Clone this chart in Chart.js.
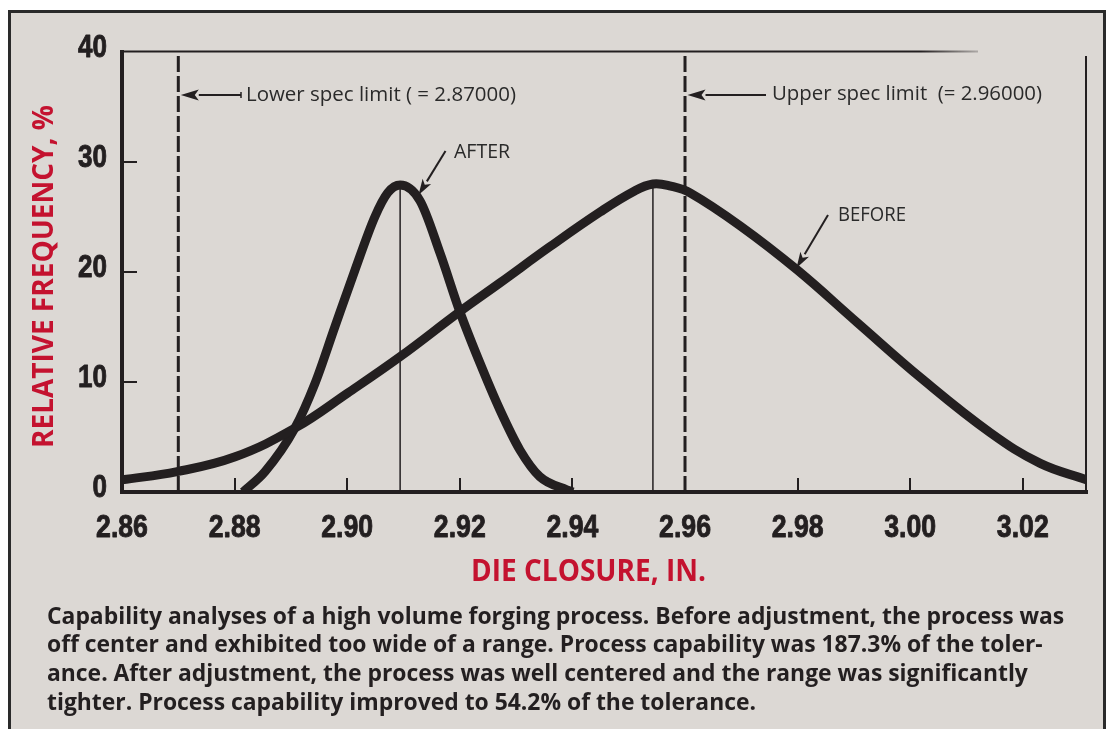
<!DOCTYPE html>
<html><head><meta charset="utf-8">
<script src="https://cdn.jsdelivr.net/npm/chart.js@4.4.1/dist/chart.umd.min.js"></script>
<style>
html,body{margin:0;padding:0;background:#fff;width:1109px;height:729px;overflow:hidden;}
#frame{position:absolute;left:8px;top:10px;width:1098px;height:760px;box-sizing:border-box;border:3px solid #2a2a2a;background:#dcd8d4;}
#c{position:absolute;left:0;top:0;}
#cap{position:absolute;left:47px;top:603px;font-family:'Open Sans',sans-serif;font-weight:700;color:#231f20;line-height:28.7px;white-space:nowrap;}
</style></head><body>
<div id="frame"></div>
<canvas id="c" width="1109" height="729"></canvas>
<div id="cap"></div>
<script>
// ---- data ----
const xTickValues = [2.86, 2.88, 2.90, 2.92, 2.94, 2.96, 2.98, 3.00, 3.02];
const yTickValues = [0, 10, 20, 30, 40];
const beforeX = [2.860, 2.8698, 2.8801, 2.8907, 2.9001, 2.9094, 2.9200, 2.9271, 2.9360, 2.9449, 2.9508, 2.9543, 2.9575, 2.9609, 2.9698, 2.9799, 2.9906, 3.0023, 3.0142, 3.0231, 3.0314];
const beforeY = [1.1, 1.85, 3.2, 5.8, 9.0, 12.3, 16.4, 19.0, 22.3, 25.45, 27.3, 28.0, 27.8, 27.2, 24.2, 20.2, 15.4, 10.2, 5.4, 2.6, 1.1];
const afterX = [2.8815, 2.8854, 2.8907, 2.8943, 2.8978, 2.9014, 2.9049, 2.9072, 2.9094, 2.9129, 2.9165, 2.9200, 2.9236, 2.9271, 2.9307, 2.9342, 2.9390, 2.9401];
const afterY = [0, 1.85, 5.8, 9.9, 15.0, 20.2, 25.0, 27.2, 27.9, 26.5, 21.7, 16.4, 11.7, 7.5, 3.8, 1.4, 0.2, 0];
const lowerSpec = 2.87;
const upperSpec = 2.96;
const beforePeak = [2.9543, 28.0];
const afterPeak = [2.9094, 27.9];
const xMin = 2.86, xMax = 3.0314, yMin = 0, yMax = 40;
const yTitle = 'RELATIVE FREQUENCY, %';
const xTitle = 'DIE CLOSURE, IN.';
const lowerLabel = 'Lower spec limit ( = 2.87000)';
const upperLabel = 'Upper spec limit  (= 2.96000)';
const afterLabel = 'AFTER';
const beforeLabel = 'BEFORE';
const captionLines = [
  'Capability analyses of a high volume forging process. Before adjustment, the process was',
  'off center and exhibited too wide of a range. Process capability was 187.3% of the toler-',
  'ance. After adjustment, the process was well centered and the range was significantly',
  'tighter. Process capability improved to 54.2% of the tolerance.'
];

const INK = '#231f20', RED = '#c4122f', TXT = '#2a2a2a';
const zip = (xs, ys) => xs.map((x, i) => ({x: x, y: ys[i]}));

function fitText(ctx, text, x, y, width, font, color) {
  ctx.save();
  ctx.font = font; ctx.fillStyle = color; ctx.textAlign = 'left'; ctx.textBaseline = 'alphabetic';
  const w = ctx.measureText(text).width;
  ctx.translate(x, y); ctx.scale(width / w, 1);
  ctx.fillText(text, 0, 0);
  ctx.restore();
}
function narrowText(ctx, text, x, y, align, sx) {
  ctx.save();
  ctx.font = "700 31px 'Liberation Sans', Arial, sans-serif";
  ctx.fillStyle = INK; ctx.strokeStyle = INK; ctx.lineWidth = 0.9; ctx.lineJoin = 'round';
  ctx.textAlign = align; ctx.textBaseline = 'alphabetic';
  ctx.translate(x, y); ctx.scale(sx, 1);
  ctx.fillText(text, 0, 0);
  ctx.strokeText(text, 0, 0);
  ctx.restore();
}
function arrow(ctx, x1, y1, x2, y2, len, half) {
  ctx.save();
  ctx.strokeStyle = INK; ctx.fillStyle = INK; ctx.lineWidth = 2;
  const a = Math.atan2(y2 - y1, x2 - x1);
  const bx = x2 - Math.cos(a) * len, by = y2 - Math.sin(a) * len;
  ctx.beginPath(); ctx.moveTo(x1, y1); ctx.lineTo(bx, by); ctx.stroke();
  ctx.beginPath();
  ctx.moveTo(x2, y2);
  ctx.lineTo(bx + Math.sin(a) * half, by - Math.cos(a) * half);
  ctx.lineTo(bx + Math.cos(a) * 4, by + Math.sin(a) * 4);
  ctx.lineTo(bx - Math.sin(a) * half, by + Math.cos(a) * half);
  ctx.closePath(); ctx.fill();
  ctx.restore();
}

const decor = {
  id: 'decor',
  afterDatasetsDraw(chart) {
    const ctx = chart.ctx, xs = chart.scales.x, ys = chart.scales.y, ca = chart.chartArea;
    ctx.save();
    ctx.strokeStyle = INK; ctx.lineWidth = 2;
    // inward tick marks
    xs.ticks.forEach(t => {
      if (t.value === xMin) return;
      const px = Math.round(xs.getPixelForValue(t.value));
      ctx.beginPath(); ctx.moveTo(px, ca.bottom); ctx.lineTo(px, ca.bottom - 14); ctx.stroke();
    });
    ys.ticks.forEach(t => {
      if (t.value === yMin || t.value === yMax) return;
      const py = Math.round(ys.getPixelForValue(t.value));
      ctx.beginPath(); ctx.moveTo(ca.left, py); ctx.lineTo(ca.left + 15, py); ctx.stroke();
    });
    // top frame line (fading at its end) and right frame line
    const g = ctx.createLinearGradient(920, 0, 978, 0);
    g.addColorStop(0, INK); g.addColorStop(1, 'rgba(35,31,32,0.25)');
    ctx.strokeStyle = g; ctx.lineWidth = 2;
    ctx.beginPath(); ctx.moveTo(ca.left, ca.top - 0.5); ctx.lineTo(978, ca.top - 0.5); ctx.stroke();
    ctx.strokeStyle = INK; ctx.lineWidth = 2;
    ctx.beginPath(); ctx.moveTo(ca.right - 1, ca.top + 4); ctx.lineTo(ca.right - 1, ca.bottom); ctx.stroke();
    ctx.restore();

    // tick labels (condensed bold), placed by the chart's scales
    xs.ticks.forEach(t => narrowText(ctx, t.value.toFixed(2), xs.getPixelForValue(t.value), ca.bottom + 45, 'center', 0.86));
    ys.ticks.forEach(t => narrowText(ctx, String(t.value), ca.left - 15, ys.getPixelForValue(t.value) + 5, 'right', 0.84));

    // annotations
    const lx = xs.getPixelForValue(lowerSpec) + 2.5, ux = xs.getPixelForValue(upperSpec) + 2.5;
    arrow(ctx, 241, 95, lx, 95, 18, 5.5);
    ctx.save(); ctx.strokeStyle = INK; ctx.lineWidth = 1.5;
    ctx.beginPath(); ctx.moveTo(241, 92); ctx.lineTo(241, 98); ctx.stroke(); ctx.restore();
    arrow(ctx, 766, 95, ux, 95, 18, 5.5);
    arrow(ctx, 445.5, 151, 418.5, 195, 16, 5);
    arrow(ctx, 828, 215, 796.5, 268, 16, 5);
    const af = "400 20px 'Open Sans', sans-serif";
    fitText(ctx, lowerLabel, 246, 101, 270, af, TXT);
    fitText(ctx, upperLabel, 772, 100, 270, af, TXT);
    fitText(ctx, afterLabel, 454, 158, 56, af, TXT);
    fitText(ctx, beforeLabel, 838, 221, 68, af, TXT);

    // axis titles
    fitText(ctx, xTitle, 471, 581, 235, "700 31px 'Open Sans', sans-serif", RED);
    ctx.save();
    ctx.translate(53, 448); ctx.rotate(-Math.PI / 2);
    fitText(ctx, yTitle, 0, 0, 343, "700 29px 'Open Sans', sans-serif", RED);
    ctx.restore();
  }
};

const lineDs = (data, w, extra) => Object.assign({
  data: data, borderColor: INK, backgroundColor: INK, borderWidth: w, pointRadius: 0,
  pointHoverRadius: 0, fill: false, tension: 0, borderCapStyle: 'butt', borderJoinStyle: 'round'
}, extra || {});

new Chart(document.getElementById('c'), {
  type: 'line',
  data: {
    datasets: [
      lineDs(zip(beforeX, beforeY), 9, {tension: 0.4}),
      lineDs(zip(afterX, afterY), 9, {cubicInterpolationMode: 'monotone'}),
      lineDs([{x: beforePeak[0], y: 0}, {x: beforePeak[0], y: beforePeak[1]}], 1.5),
      lineDs([{x: afterPeak[0], y: 0}, {x: afterPeak[0], y: afterPeak[1]}], 1.5),
      lineDs([{x: lowerSpec, y: yMin}, {x: lowerSpec, y: yMax}], 3, {borderDash: [16, 4]}),
      lineDs([{x: upperSpec, y: yMin}, {x: upperSpec, y: yMax}], 3, {borderDash: [16, 4]})
    ]
  },
  options: {
    responsive: false, animation: false, events: [],
    layout: {padding: {left: 0, top: 52, right: 22, bottom: 0}},
    plugins: {legend: {display: false}, tooltip: {enabled: false}},
    scales: {
      x: {
        type: 'linear', min: xMin, max: xMax,
        afterBuildTicks: s => { s.ticks = xTickValues.map(v => ({value: v})); },
        afterFit: s => { s.height = 729 - 492; },
        ticks: {display: false, autoSkip: false},
        grid: {display: false, drawTicks: false},
        border: {display: true, width: 4, color: INK}
      },
      y: {
        type: 'linear', min: yMin, max: yMax,
        afterBuildTicks: s => { s.ticks = yTickValues.map(v => ({value: v})); },
        afterFit: s => { s.width = 122; },
        ticks: {display: false, autoSkip: false},
        grid: {display: false, drawTicks: false},
        border: {display: true, width: 4, color: INK}
      }
    }
  },
  plugins: [decor]
});

// caption
const cap = document.getElementById('cap');
captionLines.forEach(t => { const d = document.createElement('div'); const s = document.createElement('span'); s.textContent = t; d.appendChild(s); cap.appendChild(d); });
let fs = 21; cap.style.fontSize = fs + 'px';
const w1 = cap.firstChild.firstChild.getBoundingClientRect().width;
fs = fs * 1018 / w1; cap.style.fontSize = fs + 'px';
cap.style.top = (625 - ((28.7 - 1.362 * fs) / 2 + 1.069 * fs)) + 'px';
</script>
</body></html>
